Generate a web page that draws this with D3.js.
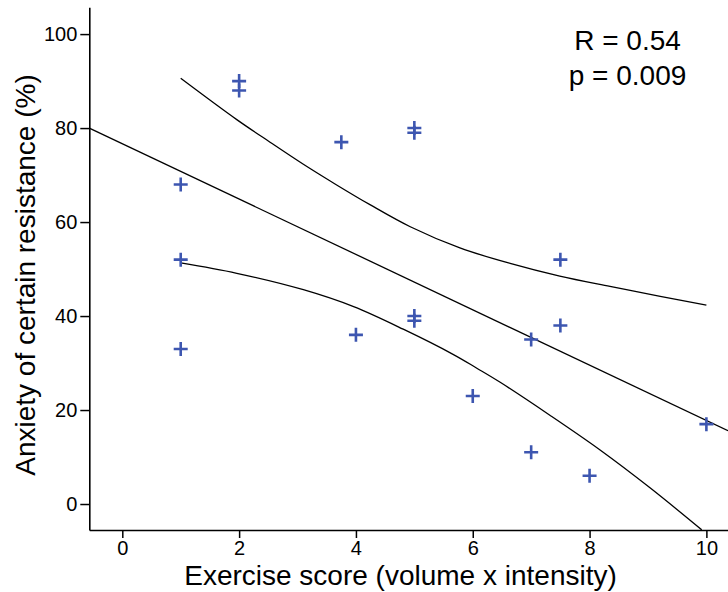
<!DOCTYPE html>
<html><head><meta charset="utf-8">
<script src="https://cdn.jsdelivr.net/npm/d3@7"></script>
<style>
body{margin:0;background:#fff}
svg{display:block}
text{font-family:"Liberation Sans",Arial,Helvetica,sans-serif;fill:#000}
</style>
</head><body><svg id="c" width="728" height="592"></svg>
<script>
// Data
const exercise = [1, 1, 1, 2, 2, 3.75, 4, 5, 5, 5, 5, 6, 7, 7, 7.5, 7.5, 8, 10];
const anxiety  = [68, 52, 33, 90, 88, 77, 36, 80, 79, 40, 39, 23, 35, 11, 52, 38, 6, 17];

const fitX = [-0.565, 10.37];
const fitY = [80.0, 15.6];

const upperX = [1, 1.96, 2.53, 3.10, 3.67, 4.24, 4.93, 5.78, 6.64, 7.49, 8.35, 9.21, 10];
const upperY = [90.6, 81.8, 77.0, 72.3, 67.9, 63.7, 59.0, 54.5, 51.2, 48.5, 46.3, 44.2, 42.3];

const lowerX = [1, 1.96, 3.10, 3.96, 4.81, 5.67, 6.07, 6.47, 7.32, 8.18, 9.04, 9.92];
const lowerY = [51.3, 49.1, 45.6, 42.0, 37.2, 31.8, 28.9, 25.9, 18.9, 11.5, 3.4, -5.5];

const xTicks = [0, 2, 4, 6, 8, 10];
const yTicks = [0, 20, 40, 60, 80, 100];

const statLines = ["R = 0.54", "p = 0.009"];
const xTitle = "Exercise score (volume x intensity)";
const yTitle = "Anxiety of certain resistance (%)";

const svg = d3.select("#c");
const x = d3.scaleLinear().domain([-0.565, 10.37]).range([89.3, 728]);
const y = d3.scaleLinear().domain([-5.53, 105.7]).range([530, 7.3]);

svg.append("defs").append("clipPath").attr("id","plot")
  .append("rect").attr("x",89.3).attr("y",7.3).attr("width",728-89.3).attr("height",530-7.3);

// Axes
const gx = svg.append("g").attr("transform","translate(0,530)")
  .call(d3.axisBottom(x).tickValues(xTicks).tickSize(8).tickPadding(3).tickSizeOuter(0));
const gy = svg.append("g").attr("transform","translate(89.3,0)")
  .call(d3.axisLeft(y).tickValues(yTicks).tickSize(9).tickPadding(3).tickSizeOuter(0));
[gx, gy].forEach(g => {
  g.select(".domain").attr("stroke","#000").attr("stroke-width",1.6);
  g.selectAll(".tick line").attr("stroke","#000").attr("stroke-width",1.5);
  g.selectAll(".tick text").attr("font-size",20).attr("font-family","'Liberation Sans',Arial,sans-serif").attr("fill","#000");
});

// Lines
const plot = svg.append("g").attr("clip-path","url(#plot)");
const line = d3.line().x(d => x(d[0])).y(d => y(d[1]));
const curve = d3.line().x(d => x(d[0])).y(d => y(d[1])).curve(d3.curveCatmullRom.alpha(0.5));

plot.append("path").datum(fitX.map((v,i)=>[v, fitY[i]]))
  .attr("d", line).attr("fill","none").attr("stroke","#000").attr("stroke-width",1.3);
plot.append("path").datum(upperX.map((v,i)=>[v, upperY[i]]))
  .attr("d", curve).attr("fill","none").attr("stroke","#000").attr("stroke-width",1.3);
plot.append("path").datum(lowerX.map((v,i)=>[v, lowerY[i]]))
  .attr("d", curve).attr("fill","none").attr("stroke","#000").attr("stroke-width",1.3);

// Points
svg.append("g").selectAll("path.pt").data(exercise.map((v,i)=>[v, anxiety[i]]))
  .join("path").attr("class","pt")
  .attr("transform", d => `translate(${x(d[0])},${y(d[1])})`)
  .attr("d","M-7,0H7M0,-7V7")
  .attr("stroke","#3d56b0").attr("stroke-width",2.6).attr("fill","none");

// Titles
svg.append("text").attr("x",400.5).attr("y",585).attr("text-anchor","middle")
  .attr("font-size",28).text(xTitle);
svg.append("text").attr("transform","translate(35,275) rotate(-90)").attr("text-anchor","middle")
  .attr("font-size",28).text(yTitle);

svg.append("g").selectAll("text").data(statLines).join("text")
  .attr("x",627.5).attr("y",(d,i)=>50 + i*35).attr("text-anchor","middle")
  .attr("font-size",28).text(d=>d);
</script>
</body></html>
